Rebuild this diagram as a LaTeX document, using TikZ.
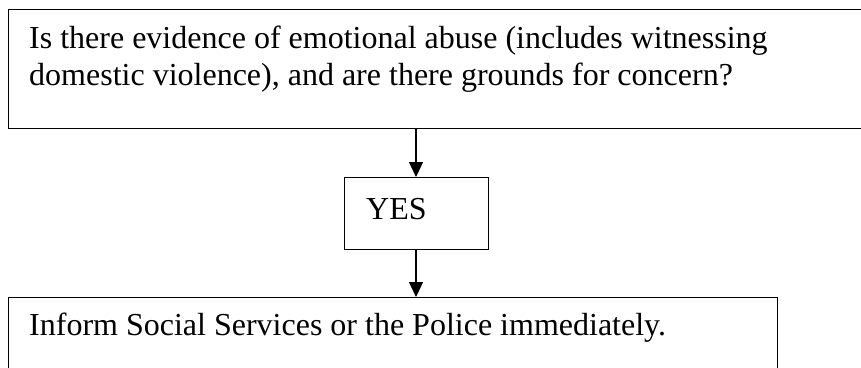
\documentclass[tikz,border=0pt]{standalone}
\usepackage{fontspec}
\setmainfont{Liberation Serif}
\usetikzlibrary{arrows.meta}
\tikzset{
  box/.style={draw, line width=1.2pt, rectangle, inner sep=0pt, anchor=north west},
  txt/.style={anchor=base west, inner sep=0pt, align=left, font=\fontsize{32pt}{37pt}\selectfont},
  conn/.style={line width=1.2pt, -{Triangle[width=14pt,length=15pt]}}
}
\begin{document}
\begin{tikzpicture}[x=1pt,y=-1pt]
\useasboundingbox (0,0) rectangle (861,367);
\clip (0,0) rectangle (861,367);
\node[box, minimum width=856pt, minimum height=119pt] (q) at (8,9) {};
\node[txt] (qt) at (29,85) {Is there evidence of emotional abuse (includes witnessing\\domestic violence), and are there grounds for concern?};
\node[box, minimum width=144pt, minimum height=72pt] (y) at (344,177) {};
\node[txt] (yt) at (366,219) {YES};
\node[box, minimum width=769pt, minimum height=90pt] (a) at (8,297) {};
\node[txt] (at) at (29,335) {Inform Social Services or the Police immediately.};
\coordinate (q1) at (416,128);
\draw[conn] (q1) -- (q1 |- y.north);
\draw[conn] (y.south -| q1) -- (q1 |- a.north);
\end{tikzpicture}
\end{document}
